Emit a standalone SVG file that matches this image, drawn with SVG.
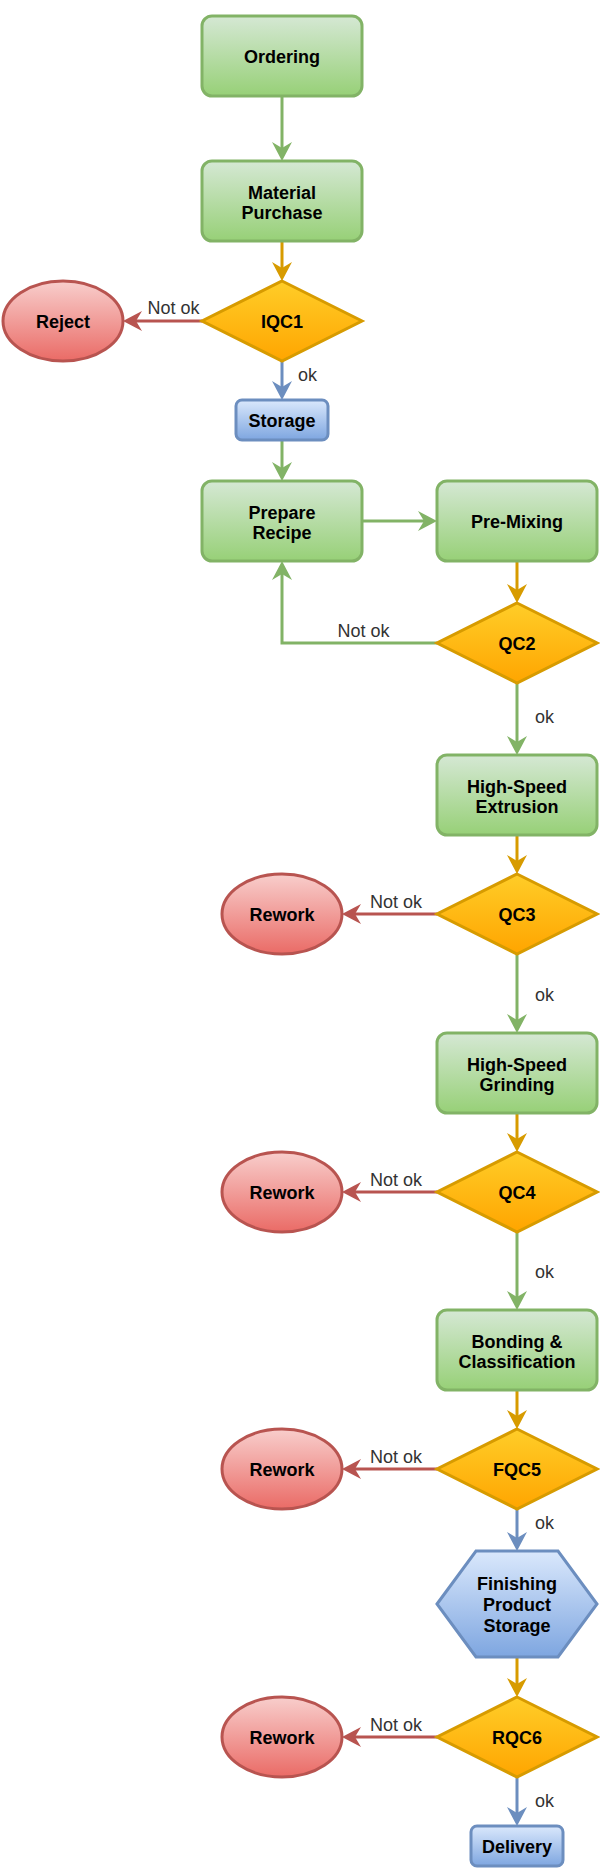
<svg xmlns="http://www.w3.org/2000/svg" width="600" height="1869" viewBox="0 0 600 1869">
<defs>
<linearGradient id="gGreen" x1="0" y1="0" x2="0" y2="1"><stop offset="0" stop-color="#d5e8d4"/><stop offset="1" stop-color="#97d077"/></linearGradient>
<linearGradient id="gOrange" x1="0" y1="0" x2="0" y2="1"><stop offset="0" stop-color="#ffcd28"/><stop offset="1" stop-color="#ffa500"/></linearGradient>
<linearGradient id="gRed" x1="0" y1="0" x2="0" y2="1"><stop offset="0" stop-color="#f8cecc"/><stop offset="1" stop-color="#ea6b66"/></linearGradient>
<linearGradient id="gBlue" x1="0" y1="0" x2="0" y2="1"><stop offset="0" stop-color="#dae8fc"/><stop offset="1" stop-color="#7ea6e0"/></linearGradient>
<marker id="aGreen" viewBox="0 0 19 20" refX="14" refY="10" markerWidth="19" markerHeight="20" markerUnits="userSpaceOnUse" orient="auto"><path d="M0,0 L19,10 L0,20 L6,10 Z" fill="#82b366"/></marker>
<marker id="aOrange" viewBox="0 0 19 20" refX="14" refY="10" markerWidth="19" markerHeight="20" markerUnits="userSpaceOnUse" orient="auto"><path d="M0,0 L19,10 L0,20 L6,10 Z" fill="#d79b00"/></marker>
<marker id="aRed" viewBox="0 0 19 20" refX="14" refY="10" markerWidth="19" markerHeight="20" markerUnits="userSpaceOnUse" orient="auto"><path d="M0,0 L19,10 L0,20 L6,10 Z" fill="#b85450"/></marker>
<marker id="aBlue" viewBox="0 0 19 20" refX="14" refY="10" markerWidth="19" markerHeight="20" markerUnits="userSpaceOnUse" orient="auto"><path d="M0,0 L19,10 L0,20 L6,10 Z" fill="#6c8ebf"/></marker>
</defs>
<style>
.green{fill:url(#gGreen);stroke:#82b366;stroke-width:3}
.orange{fill:url(#gOrange);stroke:#d79b00;stroke-width:3}
.red{fill:url(#gRed);stroke:#b85450;stroke-width:3}
.blue{fill:url(#gBlue);stroke:#6c8ebf;stroke-width:3}
.t{font-family:"Liberation Sans",Arial,Helvetica,sans-serif;font-size:18px;font-weight:bold;fill:#000;text-anchor:middle}
.lbl{font-family:"Liberation Sans",Arial,Helvetica,sans-serif;font-size:18px;fill:#333}
.c{fill:none;stroke-width:3}
.cg{stroke:#82b366;marker-end:url(#aGreen)}
.co{stroke:#d79b00;marker-end:url(#aOrange)}
.cr{stroke:#b85450;marker-end:url(#aRed)}
.cb{stroke:#6c8ebf;marker-end:url(#aBlue)}
</style>
<rect width="600" height="1869" fill="#ffffff"/>
<g id="connectors">
<path class="c cg" d="M282,96 V156"/>
<path class="c co" d="M282,241 V276"/>
<path class="c cr" d="M202,321 H128"/>
<path class="c cb" d="M282,361 V395"/>
<path class="c cg" d="M282,440 V476"/>
<path class="c cg" d="M362,521 H432"/>
<path class="c co" d="M517,561 V598"/>
<path class="c cg" d="M437,643 H282 V566"/>
<path class="c cg" d="M517,683 V750"/>
<path class="c co" d="M517,835 V869"/>
<path class="c cr" d="M437,914 H347"/>
<path class="c cg" d="M517,954 V1028"/>
<path class="c co" d="M517,1113 V1147"/>
<path class="c cr" d="M437,1192 H347"/>
<path class="c cg" d="M517,1232 V1305"/>
<path class="c co" d="M517,1390 V1424"/>
<path class="c cr" d="M437,1469 H347"/>
<path class="c cb" d="M517,1509 V1546"/>
<path class="c co" d="M517,1657 V1692"/>
<path class="c cr" d="M437,1737 H347"/>
<path class="c cb" d="M517,1777 V1821"/>
<text class="lbl" x="173.5" y="314" text-anchor="middle">Not ok</text>
<text class="lbl" x="298" y="381">ok</text>
<text class="lbl" x="363.5" y="637" text-anchor="middle">Not ok</text>
<text class="lbl" x="535" y="723">ok</text>
<text class="lbl" x="396" y="907.5" text-anchor="middle">Not ok</text>
<text class="lbl" x="535" y="1001">ok</text>
<text class="lbl" x="396" y="1185.5" text-anchor="middle">Not ok</text>
<text class="lbl" x="535" y="1278">ok</text>
<text class="lbl" x="396" y="1462.5" text-anchor="middle">Not ok</text>
<text class="lbl" x="535" y="1529">ok</text>
<text class="lbl" x="396" y="1730.5" text-anchor="middle">Not ok</text>
<text class="lbl" x="535" y="1807">ok</text>
</g>
<g id="ordering"><rect class="green" x="202" y="16" width="160" height="80" rx="10"/><text class="t" x="282" y="63">Ordering</text></g>
<g id="material-purchase"><rect class="green" x="202" y="161" width="160" height="80" rx="10"/><text class="t" x="282" y="198.5">Material</text><text class="t" x="282" y="219">Purchase</text></g>
<g id="iqc1"><polygon class="orange" points="282,281 362,321 282,361 202,321"/><text class="t" x="282" y="327.5">IQC1</text></g>
<g id="reject"><ellipse class="red" cx="63" cy="321" rx="60" ry="40"/><text class="t" x="63" y="327.5">Reject</text></g>
<g id="storage"><rect class="blue" x="236" y="400" width="92" height="40" rx="6"/><text class="t" x="282" y="426.5">Storage</text></g>
<g id="prepare-recipe"><rect class="green" x="202" y="481" width="160" height="80" rx="10"/><text class="t" x="282" y="518.5">Prepare</text><text class="t" x="282" y="539">Recipe</text></g>
<g id="pre-mixing"><rect class="green" x="437" y="481" width="160" height="80" rx="10"/><text class="t" x="517" y="528">Pre-Mixing</text></g>
<g id="qc2"><polygon class="orange" points="517,603 597,643 517,683 437,643"/><text class="t" x="517" y="649.5">QC2</text></g>
<g id="high-speed-extrusion"><rect class="green" x="437" y="755" width="160" height="80" rx="10"/><text class="t" x="517" y="792.5">High-Speed</text><text class="t" x="517" y="813">Extrusion</text></g>
<g id="qc3"><polygon class="orange" points="517,874 597,914 517,954 437,914"/><text class="t" x="517" y="920.5">QC3</text></g>
<g id="rework1"><ellipse class="red" cx="282" cy="914" rx="60" ry="40"/><text class="t" x="282" y="920.5">Rework</text></g>
<g id="high-speed-grinding"><rect class="green" x="437" y="1033" width="160" height="80" rx="10"/><text class="t" x="517" y="1070.5">High-Speed</text><text class="t" x="517" y="1091">Grinding</text></g>
<g id="qc4"><polygon class="orange" points="517,1152 597,1192 517,1232 437,1192"/><text class="t" x="517" y="1198.5">QC4</text></g>
<g id="rework2"><ellipse class="red" cx="282" cy="1192" rx="60" ry="40"/><text class="t" x="282" y="1198.5">Rework</text></g>
<g id="bonding-classification"><rect class="green" x="437" y="1310" width="160" height="80" rx="10"/><text class="t" x="517" y="1347.5">Bonding &amp;</text><text class="t" x="517" y="1368">Classification</text></g>
<g id="fqc5"><polygon class="orange" points="517,1429 597,1469 517,1509 437,1469"/><text class="t" x="517" y="1475.5">FQC5</text></g>
<g id="rework3"><ellipse class="red" cx="282" cy="1469" rx="60" ry="40"/><text class="t" x="282" y="1475.5">Rework</text></g>
<g id="finishing-product-storage"><polygon class="blue" points="437,1604 476,1551 558,1551 597,1604 558,1657 476,1657"/><text class="t" x="517" y="1590">Finishing</text><text class="t" x="517" y="1611">Product</text><text class="t" x="517" y="1631.5">Storage</text></g>
<g id="rqc6"><polygon class="orange" points="517,1697 597,1737 517,1777 437,1737"/><text class="t" x="517" y="1743.5">RQC6</text></g>
<g id="rework4"><ellipse class="red" cx="282" cy="1737" rx="60" ry="40"/><text class="t" x="282" y="1743.5">Rework</text></g>
<g id="delivery"><rect class="blue" x="471" y="1826" width="92" height="40" rx="6"/><text class="t" x="517" y="1852.5">Delivery</text></g>
</svg>
